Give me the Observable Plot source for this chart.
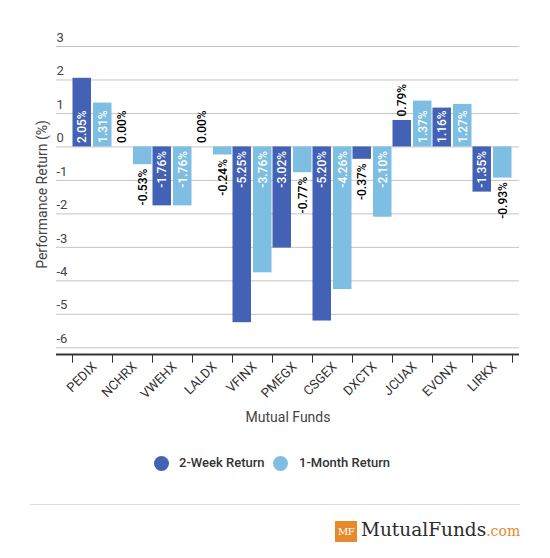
<!DOCTYPE html>
<html><head><meta charset="utf-8">
<script src="https://cdn.jsdelivr.net/npm/d3@7"></script>
<script src="https://cdn.jsdelivr.net/npm/@observablehq/plot@0.6"></script>
<style>
body{margin:0;background:#fff;font-family:Roboto, "Noto Sans", sans-serif;}
#wrap{position:relative;width:550px;height:558px;overflow:hidden;background:#fff;}
#chart{position:absolute;left:0;top:0;}
.dot{position:absolute;width:15px;height:15px;border-radius:50%;}
.lt{position:absolute;font-size:13px;font-weight:500;color:#333;line-height:16px;white-space:nowrap;}
#rule{position:absolute;left:30px;top:504px;width:490px;height:0;border-top:1.5px solid #ddd;}
#mf{position:absolute;left:335px;top:521px;width:22px;height:21px;background:#e8892b;color:#fff;font-family:"DejaVu Serif",serif;font-size:10px;line-height:21px;text-align:center;letter-spacing:-0.5px;}
#brand{position:absolute;left:361px;top:516px;font-family:"DejaVu Serif",serif;font-size:18.5px;color:#2b2b2b;white-space:nowrap;line-height:28px;}
#brand span{color:#e8892b;font-size:14px;}
</style>
</head><body>
<div id="wrap">
  <div id="chart"></div>
  <div id="legend"></div>
  <div id="rule"></div>
  <div id="mf">MF</div>
  <div id="brand">MutualFunds<span>.com</span></div>
</div>
<script>
const funds = ["PEDIX","NCHRX","VWEHX","LALDX","VFINX","PMEGX","CSGEX","DXCTX","JCUAX","EVONX","LIRKX"];
const twoWeek = [2.05, 0.00, -1.76, 0.00, -5.25, -3.02, -5.20, -0.37, 0.79, 1.16, -1.35];
const oneMonth = [1.31, -0.53, -1.76, -0.24, -3.76, -0.77, -4.26, -2.10, 1.37, 1.27, -0.93];
const yTicks = [3, 2, 1, 0, -1, -2, -3, -4, -5, -6];
const seriesNames = ["2-Week Return", "1-Month Return"];
const seriesColors = ["#4462b5", "#7fbee3"];
const xTitle = "Mutual Funds";
const yTitle = "Performance Return (%)";

const rows = funds.flatMap((f, i) => [
  {fund: f, series: seriesNames[0], value: twoWeek[i]},
  {fund: f, series: seriesNames[1], value: oneMonth[i]}
]);

function seriesMarks(k) {
  const data = rows.filter(d => d.series === seriesNames[k]);
  const dx = k === 0 ? -10.25 : 10.25;
  const base = {x: "fund", text: d => d.value.toFixed(2) + "%", rotate: -90, fontSize: 12, fontWeight: 500, dx};
  const inside = d => Math.abs(d.value) >= 1;
  return [
    Plot.barY(data, {x: "fund", y: "value", fill: seriesColors[k],
      insetLeft: k === 0 ? 0.5 : 21, insetRight: k === 0 ? 21 : 0.5}),
    Plot.text(data.filter(d => d.value >= 0 && inside(d)), {...base, y: () => 0, textAnchor: "start", dy: -4, fill: "white"}),
    Plot.text(data.filter(d => d.value >= 0 && !inside(d)), {...base, y: "value", textAnchor: "start", dy: -4, fill: "black"}),
    Plot.text(data.filter(d => d.value < 0 && inside(d)), {...base, y: () => 0, textAnchor: "end", dy: 4, fill: "white"}),
    Plot.text(data.filter(d => d.value < 0 && !inside(d)), {...base, y: "value", textAnchor: "end", dy: 4, fill: "black"})
  ];
}

const yMin = -6.2, yMax = 3;
const chart = Plot.plot({
  width: 550,
  height: 440,
  marginLeft: 56,
  marginRight: 31,
  marginTop: 46,
  marginBottom: 86,
  style: {fontFamily: "Roboto, 'Noto Sans', sans-serif", fontSize: "12px", background: "white"},
  x: {domain: funds, range: [72, 512], padding: 0, axis: null},
  y: {domain: [yMin, yMax], axis: null},
  marks: [
    Plot.ruleY(yTicks, {stroke: "#c4c4c4", strokeWidth: 1}),
    Plot.text(yTicks, {y: d => d, text: d => String(d), frameAnchor: "left", textAnchor: "start", dy: -9, fill: "#444", fontSize: 13}),
    ...seriesMarks(0),
    ...seriesMarks(1),
    Plot.ruleY([yMin], {stroke: "#333", strokeWidth: 2.2}),
    Plot.ruleX(funds, {x: d => d, dx: -20, y1: yMin, y2: yMin - 0.26, stroke: "#333", strokeWidth: 1}),
    Plot.ruleX([funds[funds.length - 1]], {x: d => d, dx: 20, y1: yMin, y2: yMin - 0.26, stroke: "#333", strokeWidth: 1}),
    Plot.text(funds, {x: d => d, text: d => d, frameAnchor: "bottom", rotate: -45, textAnchor: "end", dx: 5, dy: 13, fill: "#333", fontSize: 13}),
    Plot.text([(yMin + yMax) / 2], {y: d => d, text: () => yTitle, frameAnchor: "left", textAnchor: "middle", rotate: -90, dx: -14, dy: -6, fill: "#444", fontSize: 14}),
    Plot.text([xTitle], {frameAnchor: "bottom", lineAnchor: "middle", dy: 63, fill: "#444", fontSize: 14})
  ]
});
document.getElementById("chart").appendChild(chart);

const legend = document.getElementById("legend");
const dotLeft = [154, 273], textLeft = [179, 299];
seriesNames.forEach((name, k) => {
  const dot = document.createElement("div");
  dot.className = "dot";
  dot.style.left = dotLeft[k] + "px";
  dot.style.top = "456px";
  dot.style.background = seriesColors[k];
  legend.appendChild(dot);
  const t = document.createElement("div");
  t.className = "lt";
  t.style.left = textLeft[k] + "px";
  t.style.top = "455px";
  t.textContent = name;
  legend.appendChild(t);
});
</script>
</body></html>
